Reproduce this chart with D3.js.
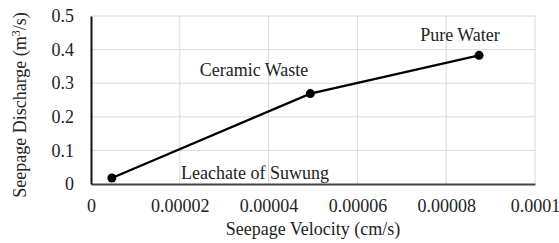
<!DOCTYPE html>
<html>
<head>
<meta charset="utf-8">
<script src="https://cdn.jsdelivr.net/npm/d3@7"></script>
<style>
  body { margin: 0; background: #fff; }
  svg text { font-family: "Times New Roman", "Liberation Serif", "DejaVu Serif", serif; fill: #222; }
</style>
</head>
<body>
<script>
var labels = ["Leachate of Suwung", "Ceramic Waste", "Pure Water"];
var velocity = [0.0000047, 0.0000494, 0.0000874];
var discharge = [0.018, 0.269, 0.383];
var xTicks = [0, 0.00002, 0.00004, 0.00006, 0.00008, 0.0001];
var xTickLabels = ["0", "0.00002", "0.00004", "0.00006", "0.00008", "0.0001"];
var yTicks = [0, 0.1, 0.2, 0.3, 0.4, 0.5];
var yTickLabels = ["0", "0.1", "0.2", "0.3", "0.4", "0.5"];

var width = 559,
    height = 243,
    margin = {top: 16, right: 24, bottom: 59, left: 91},
    fontSize = "18px";

var x = d3.scaleLinear().domain([0, 0.0001]).range([margin.left, width - margin.right]);
var y = d3.scaleLinear().domain([0, 0.5]).range([height - margin.bottom, margin.top]);

var svg = d3.select("body").append("svg")
    .attr("width", width)
    .attr("height", height);

// gridlines
svg.append("g").selectAll("line")
    .data(xTicks.slice(1))
  .enter().append("line")
    .attr("x1", function(d) { return x(d); })
    .attr("x2", function(d) { return x(d); })
    .attr("y1", y(0))
    .attr("y2", y(0.5))
    .style("stroke", "#d9d9d9")
    .style("stroke-width", 1);

svg.append("g").selectAll("line")
    .data(yTicks.slice(1))
  .enter().append("line")
    .attr("x1", x(0))
    .attr("x2", x(0.0001))
    .attr("y1", function(d) { return y(d); })
    .attr("y2", function(d) { return y(d); })
    .style("stroke", "#d9d9d9")
    .style("stroke-width", 1);

// axes
var xAxis = svg.append("g")
    .attr("transform", "translate(0," + y(0) + ")")
    .call(d3.axisBottom(x).tickValues(xTicks)
      .tickFormat(function(d, i) { return xTickLabels[i]; })
      .tickSize(0).tickPadding(15));
xAxis.attr("font-family", null);
xAxis.select(".domain").style("stroke", "#444").style("stroke-width", 2);
xAxis.selectAll("text").style("font-size", fontSize).attr("fill", "#222");

var yAxis = svg.append("g")
    .attr("transform", "translate(" + x(0) + ",0)")
    .call(d3.axisLeft(y).tickValues(yTicks)
      .tickFormat(function(d, i) { return yTickLabels[i]; })
      .tickSize(0).tickPadding(17));
yAxis.attr("font-family", null);
yAxis.select(".domain").style("stroke", "#111").style("stroke-width", 2);
yAxis.selectAll("text").style("font-size", fontSize).attr("fill", "#222");

// line
var pts = velocity.map(function(v, i) { return {x: v, y: discharge[i], label: labels[i]}; });

svg.append("path")
    .datum(pts)
    .attr("d", d3.line().x(function(d) { return x(d.x); }).y(function(d) { return y(d.y); }))
    .style("fill", "none")
    .style("stroke", "#000")
    .style("stroke-width", 2.2);

svg.selectAll("circle.pt")
    .data(pts)
  .enter().append("circle")
    .attr("cx", function(d) { return x(d.x); })
    .attr("cy", function(d) { return y(d.y); })
    .attr("r", 4.5)
    .style("fill", "#000");

// data labels
var labelPos = [[255, 179], [254, 76], [460, 41]];
svg.selectAll("text.lbl")
    .data(pts)
  .enter().append("text")
    .attr("x", function(d, i) { return labelPos[i][0]; })
    .attr("y", function(d, i) { return labelPos[i][1]; })
    .attr("text-anchor", "middle")
    .style("font-size", fontSize)
    .text(function(d) { return d.label; });

// axis titles
svg.append("text")
    .attr("x", x(0.00005))
    .attr("y", 235)
    .attr("text-anchor", "middle")
    .style("font-size", fontSize)
    .text("Seepage Velocity (cm/s)");

var yt = svg.append("text")
    .attr("transform", "translate(26,105) rotate(-90)")
    .attr("text-anchor", "middle")
    .style("font-size", fontSize);
yt.append("tspan").text("Seepage Discharge (m");
yt.append("tspan").attr("dy", -6).style("font-size", "12px").text("3");
yt.append("tspan").attr("dy", 6).text("/s)");
</script>
</body>
</html>
